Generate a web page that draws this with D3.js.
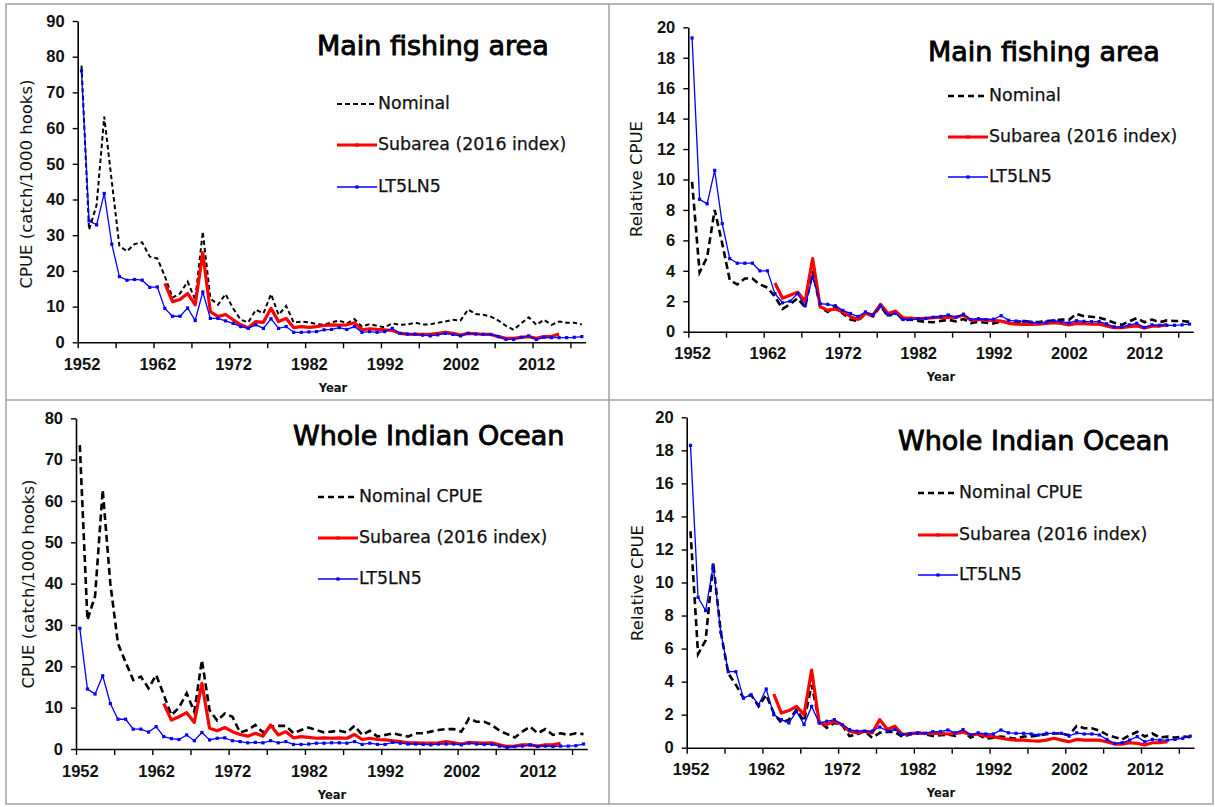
<!DOCTYPE html>
<html>
<head>
<meta charset="utf-8">
<script src="https://cdn.jsdelivr.net/npm/d3@7"></script>
<style>
  html, body { margin: 0; padding: 0; background: #fff; }
  svg { display: block; }
</style>
</head>
<body>
<svg id="chart" width="1215" height="807"></svg>
<script>
// Albacore longline CPUE, 1952-2018
const years = d3.range(1952, 2019);        // categories 1952..2018
const subYears = d3.range(1963, 2016);     // subarea index covers 1963..2015
const yearLabels = [1952, 1962, 1972, 1982, 1992, 2002, 2012];

// Main fishing area, CPUE (catch/1000 hooks)
const mainNominal = [77.5, 31.5, 38.5, 63.2, 45.0, 27.0, 25.5, 27.5, 28.0, 24.0, 23.5, 18.5, 12.5, 13.7, 17.0, 11.9, 31.0, 12.3, 10.5, 13.5, 9.5, 6.3, 5.6, 9.1, 8.1, 13.5, 7.7, 10.2, 5.5, 5.8,
  5.6, 5.1, 4.9, 5.6, 6.1, 5.3, 6.5, 4.4, 5.1, 4.6, 4.2, 5.3, 4.9, 5.0, 5.5, 5.0, 5.0, 5.5, 5.8, 6.3, 6.1, 9.2, 7.9, 7.7, 7.2, 6.1, 4.6, 3.5, 5.3, 7.0, 4.9, 6.3, 4.9, 5.8, 5.5, 5.5, 5.0];
const mainSubarea = [16.5, 11.4, 12.0, 13.7, 10.5, 25.1, 8.6, 7.2, 7.8, 6.3, 4.9, 4.1, 5.8, 5.6, 9.5, 5.8, 6.7, 4.1, 4.4,
  4.2, 4.4, 4.7, 4.9, 4.8, 4.9, 5.5, 3.5, 3.8, 3.6, 3.5, 3.3, 2.5, 2.3, 2.2, 2.2, 2.2, 2.5, 2.8, 2.5, 2.0, 2.5, 2.4, 2.2, 2.2, 1.6, 1.1, 1.1, 1.4, 1.6, 1.1, 1.6, 1.6, 2.3];
const mainLT5LN5 = [76.0, 34.0, 32.9, 41.7, 27.5, 18.4, 17.4, 17.6, 17.4, 15.4, 15.5, 9.5, 7.3, 7.3, 9.6, 6.1, 14.1, 6.7, 6.7, 6.0, 5.3, 4.4, 3.9, 4.9, 3.9, 6.6, 3.9, 4.4, 2.8, 2.8,
  2.9, 3.0, 3.5, 3.6, 4.1, 3.6, 4.4, 2.8, 3.0, 2.8, 3.0, 3.9, 2.5, 2.3, 2.3, 2.0, 1.8, 2.1, 2.5, 2.2, 1.8, 2.5, 2.3, 2.2, 2.2, 1.6, 0.8, 0.8, 1.4, 1.8, 0.8, 1.4, 1.3, 1.3, 1.3, 1.4, 1.6];

// Main fishing area, relative CPUE
const mainRelNominal = [9.85, 3.9, 4.9, 8.0, 5.8, 3.4, 3.1, 3.5, 3.5, 3.1, 2.9, 2.3, 1.5, 1.8, 2.2, 1.6, 4.0, 1.6, 1.3, 1.7, 1.2, 0.8, 0.7, 1.2, 1.0, 1.7, 1.0, 1.3, 0.75, 0.8,
  0.71, 0.65, 0.62, 0.71, 0.78, 0.68, 0.83, 0.56, 0.65, 0.59, 0.54, 0.68, 0.62, 0.64, 0.70, 0.64, 0.64, 0.70, 0.74, 0.80, 0.78, 1.17, 1.01, 0.98, 0.92, 0.78, 0.59, 0.45, 0.68, 0.89, 0.62, 0.80, 0.62, 0.74, 0.70, 0.70, 0.64];
const mainRelSubarea = [3.2, 2.2, 2.4, 2.6, 2.0, 4.8, 1.65, 1.4, 1.5, 1.3, 1.0, 0.8, 1.2, 1.1, 1.8, 1.2, 1.35, 0.9, 0.9,
  0.85, 0.88, 0.92, 0.96, 0.94, 0.96, 1.08, 0.75, 0.8, 0.76, 0.74, 0.7, 0.55, 0.5, 0.48, 0.48, 0.5, 0.55, 0.6, 0.55, 0.45, 0.55, 0.53, 0.5, 0.5, 0.38, 0.26, 0.26, 0.33, 0.38, 0.24, 0.36, 0.36, 0.48];
const mainRelLT5LN5 = [19.3, 8.7, 8.4, 10.6, 7.1, 4.8, 4.5, 4.5, 4.5, 4.0, 4.0, 2.5, 1.9, 2.0, 2.5, 1.7, 3.6, 1.85, 1.8, 1.7, 1.4, 1.2, 1.0, 1.3, 1.1, 1.7, 1.1, 1.2, 0.8, 0.8,
  0.85, 0.88, 0.95, 1.0, 1.1, 0.95, 1.15, 0.8, 0.85, 0.8, 0.82, 1.05, 0.75, 0.7, 0.68, 0.62, 0.58, 0.63, 0.72, 0.66, 0.58, 0.72, 0.68, 0.66, 0.66, 0.52, 0.32, 0.32, 0.45, 0.55, 0.28, 0.45, 0.42, 0.42, 0.42, 0.45, 0.5];

// Whole Indian Ocean, CPUE (catch/1000 hooks)
const wholeNominal = [73.5, 31.2, 37.0, 62.7, 40.0, 25.5, 21.0, 16.7, 17.5, 14.7, 17.9, 13.1, 8.2, 10.0, 13.5, 9.0, 21.5, 9.4, 6.9, 8.6, 7.8, 4.0, 4.6, 5.8, 4.0, 5.4, 5.6, 5.6, 3.8, 4.6,
  5.2, 4.6, 4.0, 4.2, 4.4, 4.0, 5.6, 3.4, 4.4, 3.0, 3.4, 3.8, 3.4, 3.0, 3.8, 3.8, 4.2, 4.6, 4.8, 4.8, 4.2, 7.4, 6.6, 6.6, 5.8, 4.4, 3.6, 2.8, 4.2, 5.4, 3.8, 4.8, 3.4, 3.8, 3.4, 3.8, 3.6];
const wholeSubarea = [11.0, 7.0, 7.8, 8.8, 6.4, 15.9, 5.0, 4.4, 5.2, 4.2, 3.5, 3.1, 3.8, 3.1, 5.8, 3.4, 4.2, 2.7, 3.0,
  2.8, 2.6, 2.7, 2.6, 2.7, 2.6, 3.5, 2.3, 2.6, 2.3, 2.2, 2.0, 1.8, 1.5, 1.5, 1.4, 1.4, 1.5, 1.8, 1.5, 1.2, 1.6, 1.5, 1.4, 1.5, 1.0, 0.6, 0.7, 1.0, 1.0, 0.7, 1.0, 1.0, 1.4];
const wholeLT5LN5 = [29.2, 14.5, 13.3, 17.7, 11.0, 7.2, 7.2, 4.8, 4.8, 4.1, 5.4, 3.0, 2.5, 2.3, 3.4, 2.0, 4.0, 2.2, 2.6, 2.7, 2.0, 1.8, 1.5, 1.6, 1.5, 2.0, 1.5, 1.8, 1.1, 1.1,
  1.2, 1.4, 1.4, 1.5, 1.5, 1.4, 1.8, 1.1, 1.4, 1.1, 1.1, 1.6, 1.4, 1.2, 1.2, 1.1, 1.0, 1.2, 1.2, 1.2, 1.0, 1.4, 1.2, 1.1, 1.1, 0.7, 0.4, 0.6, 0.7, 1.0, 0.6, 0.7, 0.6, 0.7, 0.7, 0.8, 1.2];

// Whole Indian Ocean, relative CPUE
const wholeRelNominal = [13.1, 5.67, 6.5, 11.2, 7.0, 4.5, 3.8, 3.0, 3.2, 2.5, 3.2, 2.1, 1.5, 1.7, 2.3, 1.6, 3.8, 1.6, 1.2, 1.5, 1.4, 0.7, 0.8, 1.0, 0.6, 0.9, 0.95, 0.95, 0.65, 0.8,
  0.93, 0.82, 0.71, 0.75, 0.79, 0.71, 1.0, 0.61, 0.79, 0.54, 0.61, 0.68, 0.61, 0.54, 0.68, 0.68, 0.75, 0.82, 0.86, 0.86, 0.75, 1.32, 1.18, 1.18, 1.04, 0.79, 0.64, 0.5, 0.75, 0.96, 0.68, 0.86, 0.61, 0.68, 0.61, 0.68, 0.64];
const wholeRelSubarea = [3.25, 2.1, 2.25, 2.5, 2.0, 4.7, 1.5, 1.4, 1.6, 1.4, 1.0, 0.9, 1.0, 0.9, 1.7, 1.1, 1.3, 0.8, 0.85,
  0.9, 0.87, 0.87, 0.87, 0.83, 0.87, 0.95, 0.77, 0.83, 0.7, 0.67, 0.57, 0.5, 0.46, 0.46, 0.42, 0.4, 0.46, 0.57, 0.46, 0.36, 0.5, 0.46, 0.46, 0.46, 0.36, 0.22, 0.22, 0.3, 0.26, 0.16, 0.3, 0.3, 0.36];
const wholeRelLT5LN5 = [18.3, 9.1, 8.3, 11.0, 7.0, 4.6, 4.6, 3.0, 3.2, 2.6, 3.55, 2.0, 1.7, 1.5, 2.2, 1.4, 2.5, 1.5, 1.6, 1.7, 1.4, 1.1, 1.0, 1.0, 1.0, 1.25, 1.0, 1.1, 0.8, 0.85,
  0.87, 0.87, 0.97, 0.97, 1.07, 0.9, 1.1, 0.77, 0.9, 0.83, 0.83, 1.07, 0.9, 0.87, 0.87, 0.83, 0.77, 0.87, 0.87, 0.87, 0.7, 0.9, 0.83, 0.83, 0.77, 0.5, 0.26, 0.3, 0.46, 0.67, 0.36, 0.5, 0.46, 0.46, 0.5, 0.57, 0.7];

const svg = d3.select("#chart");
const TEXT_FONT = "'DejaVu Sans', sans-serif";
const TICK_FONT = "'Liberation Sans', Arial, sans-serif";

// Frame around the four panels
const frame = svg.append("g").attr("fill", "none").attr("stroke", "#a0a0a0").attr("stroke-width", 1.5);
frame.append("rect").attr("x", 6).attr("y", 4).attr("width", 1207).attr("height", 800);
frame.append("line").attr("x1", 609).attr("x2", 609).attr("y1", 4).attr("y2", 804);
frame.append("line").attr("x1", 6).attr("x2", 1213).attr("y1", 400).attr("y2", 400);

const panels = [
  {
    left: 77.7, right: 585.6, top: 21, bottom: 342.3, yMax: 90, yStep: 10,
    nominal: mainNominal, subarea: mainSubarea, lt: mainLT5LN5,
    yTitle: "CPUE (catch/1000 hooks)", yTitleX: 27, yTitleY: 184,
    title: "Main fishing area", titleX: 317, titleY: 55,
    yearX: 333, yearY: 392,
    legendX: 337, legendY: [104, 145, 187], nominalLabel: "Nominal",
    dash: "4.5,3", dashWidth: 2, legendDash: "5,3"
  },
  {
    left: 688.3, right: 1193.3, top: 27.3, bottom: 331.7, yMax: 20, yStep: 2,
    nominal: mainRelNominal, subarea: mainRelSubarea, lt: mainRelLT5LN5,
    yTitle: "Relative CPUE", yTitleX: 637, yTitleY: 179,
    title: "Main fishing area", titleX: 928, titleY: 61,
    yearX: 941, yearY: 381,
    legendX: 948, legendY: [96, 137, 177], nominalLabel: "Nominal",
    dash: "7,4", dashWidth: 2.6, legendDash: "6,4"
  },
  {
    left: 76, right: 587.3, top: 418.3, bottom: 749, yMax: 80, yStep: 10,
    nominal: wholeNominal, subarea: wholeSubarea, lt: wholeLT5LN5,
    yTitle: "CPUE (catch/1000 hooks)", yTitleX: 29, yTitleY: 584,
    title: "Whole Indian Ocean", titleX: 293, titleY: 445,
    yearX: 332, yearY: 799,
    legendX: 318, legendY: [497, 538, 579], nominalLabel: "Nominal CPUE",
    dash: "7,4", dashWidth: 2.6, legendDash: "6,4"
  },
  {
    left: 686.7, right: 1194, top: 417.3, bottom: 747.7, yMax: 20, yStep: 2,
    nominal: wholeRelNominal, subarea: wholeRelSubarea, lt: wholeRelLT5LN5,
    yTitle: "Relative CPUE", yTitleX: 638, yTitleY: 583,
    title: "Whole Indian Ocean", titleX: 898, titleY: 450,
    yearX: 941, yearY: 797,
    legendX: 918, legendY: [493, 535, 575], nominalLabel: "Nominal CPUE",
    dash: "7,4", dashWidth: 2.6, legendDash: "6,4"
  }
];

const BLUE = "#0000ff";
const RED = "#ff0000";

panels.forEach(p => {
  const g = svg.append("g");
  const x = d3.scaleLinear().domain([1951.5, 2018.5]).range([p.left, p.right]);
  const y = d3.scaleLinear().domain([0, p.yMax]).range([p.bottom, p.top]);

  // y axis
  const yAxis = g.append("g")
    .attr("transform", `translate(${p.left},0)`)
    .call(d3.axisLeft(y)
      .tickValues(d3.range(0, p.yMax + p.yStep / 2, p.yStep))
      .tickSize(5).tickPadding(8).tickSizeOuter(0));
  yAxis.select(".domain").attr("stroke-width", 1.6);
  yAxis.selectAll(".tick line").attr("stroke-width", 1.4);
  yAxis.selectAll(".tick text")
    .attr("font-family", TICK_FONT).attr("font-size", 16.5).attr("font-weight", "bold")
    .attr("fill", "#111");

  // x axis: tick marks every 5 categories, labels every 10
  const tickYears = d3.range(1951.5, 2018, 5);
  const xAxis = g.append("g")
    .attr("transform", `translate(0,${p.bottom})`)
    .call(d3.axisBottom(x).tickValues(tickYears).tickFormat("").tickSize(6).tickSizeOuter(0));
  xAxis.select(".domain").attr("stroke-width", 1.6);
  xAxis.selectAll(".tick line").attr("stroke-width", 1.4);

  const xLabels = g.append("g")
    .attr("transform", `translate(0,${p.bottom})`)
    .call(d3.axisBottom(x).tickValues(yearLabels).tickFormat(d3.format("d")).tickSize(0).tickPadding(16));
  xLabels.select(".domain").remove();
  xLabels.selectAll(".tick text")
    .attr("font-family", TICK_FONT).attr("font-size", 16.5).attr("font-weight", "bold")
    .attr("fill", "#111");

  // axis titles
  g.append("text")
    .attr("transform", `translate(${p.yTitleX},${p.yTitleY}) rotate(-90)`)
    .attr("text-anchor", "middle").attr("dominant-baseline", "middle")
    .attr("font-family", TEXT_FONT).attr("font-size", 16.5).attr("fill", "#111")
    .text(p.yTitle);
  g.append("text")
    .attr("x", p.yearX).attr("y", p.yearY).attr("text-anchor", "middle")
    .attr("font-family", TEXT_FONT).attr("font-size", 11.5).attr("font-weight", "bold").attr("fill", "#111")
    .text("Year");

  // panel title
  g.append("text")
    .attr("x", p.titleX).attr("y", p.titleY)
    .attr("font-family", TEXT_FONT).attr("font-size", 27).attr("fill", "#000")
    .attr("stroke", "#000").attr("stroke-width", 0.9)
    .text(p.title);

  const line = d3.line().x(d => x(d[0])).y(d => y(d[1]));
  const nomData = years.map((yr, i) => [yr, p.nominal[i]]);
  const subData = subYears.map((yr, i) => [yr, p.subarea[i]]);
  const ltData = years.map((yr, i) => [yr, p.lt[i]]);

  // series: nominal (dashed), subarea index (thick red), LT5LN5 (blue with dots)
  g.append("path").datum(nomData).attr("d", line)
    .attr("fill", "none").attr("stroke", "#000").attr("stroke-width", p.dashWidth)
    .attr("stroke-dasharray", p.dash);

  g.append("path").datum(subData).attr("d", line)
    .attr("fill", "none").attr("stroke", RED).attr("stroke-width", 3.2)
    .attr("stroke-linejoin", "round");

  g.append("path").datum(ltData).attr("d", line)
    .attr("fill", "none").attr("stroke", BLUE).attr("stroke-width", 1.3);
  g.append("g").selectAll("rect").data(ltData).join("rect")
    .attr("x", d => x(d[0]) - 1.6).attr("y", d => y(d[1]) - 1.6)
    .attr("width", 3.2).attr("height", 3.2).attr("fill", BLUE);

  // legend
  const lg = g.append("g").attr("font-family", TEXT_FONT).attr("font-size", 17.4)
    .attr("fill", "#111").attr("stroke", "#111").attr("stroke-width", 0.25);
  const lx0 = p.legendX, lx1 = p.legendX + 40;
  const items = [
    { label: p.nominalLabel, stroke: "#000", width: p.dashWidth, dash: p.legendDash, marker: null },
    { label: "Subarea (2016 index)", stroke: RED, width: 3.2, dash: null, marker: RED },
    { label: "LT5LN5", stroke: BLUE, width: 1.3, dash: null, marker: BLUE }
  ];
  items.forEach((it, i) => {
    const ly = p.legendY[i];
    lg.append("line").attr("x1", lx0).attr("x2", lx1).attr("y1", ly).attr("y2", ly)
      .attr("stroke", it.stroke).attr("stroke-width", it.width)
      .attr("stroke-dasharray", it.dash);
    if (it.marker) {
      lg.append("rect").attr("x", (lx0 + lx1) / 2 - 1.6).attr("y", ly - 1.6)
        .attr("width", 3.2).attr("height", 3.2).attr("fill", it.marker).attr("stroke", "none");
    }
    lg.append("text").attr("x", lx1 + 1).attr("y", ly).attr("dominant-baseline", "middle")
      .text(it.label);
  });
});
</script>
</body>
</html>
